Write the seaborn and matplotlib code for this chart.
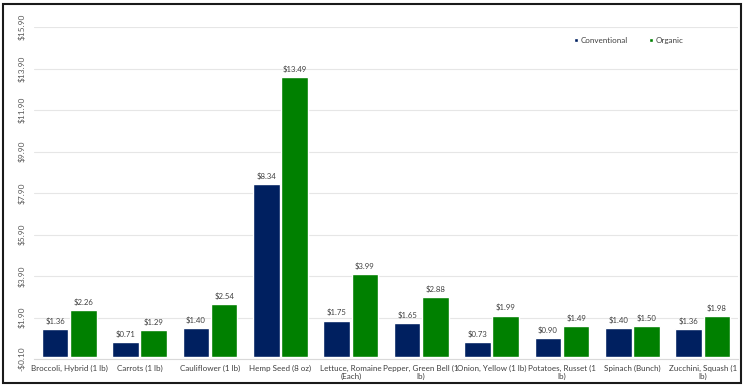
import pandas as pd
import matplotlib.pyplot as plt
import seaborn as sns
from matplotlib.patches import Rectangle

# Chart values
items = ['Broccoli, Hybrid (1 lb)', 'Carrots (1 lb)', 'Cauliflower (1 lb)', 'Hemp Seed (8 oz)',
         'Lettuce, Romaine\n(Each)', 'Pepper, Green Bell (1\nlb)', 'Onion, Yellow (1 lb)',
         'Potatoes, Russet (1\nlb)', 'Spinach (Bunch)', 'Zucchini, Squash (1\nlb)']
conventional = [1.36, 0.71, 1.40, 8.34, 1.75, 1.65, 0.73, 0.90, 1.40, 1.36]
organic = [2.26, 1.29, 2.54, 13.49, 3.99, 2.88, 1.99, 1.49, 1.50, 1.98]
y_ticks = [-0.10, 1.90, 3.90, 5.90, 7.90, 9.90, 11.90, 13.90, 15.90]

df = pd.DataFrame({
    'Item': items * 2,
    'Price': conventional + organic,
    'Type': ['Conventional'] * len(items) + ['Organic'] * len(items),
})

sns.set_theme(style="white")
plt.rcParams['font.family'] = ['Lato', 'DejaVu Sans']

fig = plt.figure(figsize=(7.44, 3.88), dpi=100)
ax = fig.add_axes([34 / 744, 29 / 388, 704 / 744, 332 / 388])

sns.barplot(data=df, x='Item', y='Price', hue='Type', palette=['#002060', '#008000'],
            width=0.8, gap=0.05, saturation=1, ax=ax)

for cont in ax.containers:
    ax.bar_label(cont, fmt='${:.2f}', padding=3, fontsize=5.6, color='#404040')

ax.set_ylim(-0.10, 15.90)
ax.set_yticks(y_ticks)
ax.set_yticklabels([f'-${abs(v):.2f}' if v < 0 else f'${v:.2f}' for v in y_ticks],
                   rotation=90, va='center', fontsize=6, color='#595959')
ax.tick_params(axis='x', labelsize=5.8, labelcolor='#404040', length=0, pad=4)
ax.tick_params(axis='y', length=0, pad=6)
ax.grid(axis='y', color='#e6e6e6', linewidth=0.8)
ax.set_axisbelow(True)
ax.set_xlabel('')
ax.set_ylabel('')
for s in ['top', 'right', 'left']:
    ax.spines[s].set_visible(False)
ax.spines['bottom'].set_color('#d9d9d9')
ax.spines['bottom'].set_linewidth(0.8)

ax.legend(frameon=False, ncol=2, loc='center', bbox_to_anchor=(0.845, 0.96),
          handlelength=0.55, handleheight=0.55, handletextpad=0.3, columnspacing=2.6,
          fontsize=5.8, labelcolor='#404040')

# outer border
fig.patches.append(Rectangle((3 / 744, 5 / 388), 738 / 744, 379 / 388, transform=fig.transFigure,
                             fill=False, edgecolor='#1a1a1a', linewidth=1.5))

plt.savefig('out.png', dpi=100)
